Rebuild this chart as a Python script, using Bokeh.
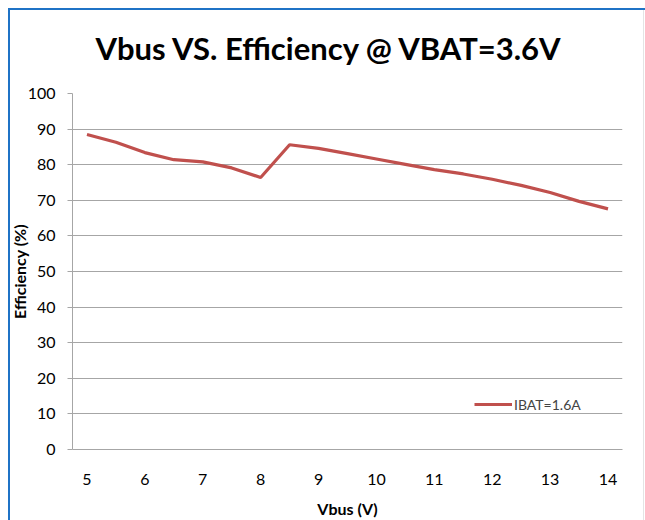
from bokeh.plotting import figure
from bokeh.models import Range1d, FixedTicker, Legend, LegendItem, Title
from bokeh.embed import file_html
from bokeh.resources import INLINE

vbus = [5, 5.5, 6, 6.5, 7, 7.5, 8, 8.5, 9, 9.5, 10, 10.5, 11, 11.5, 12, 12.5, 13, 13.5, 14]
eff = [88.5, 86.3, 83.4, 81.4, 80.8, 79.1, 76.4, 85.6, 84.6, 83.1, 81.6, 80.1, 78.6, 77.4, 75.9, 74.2, 72.2, 69.7, 67.6]
x_ticks = [5, 6, 7, 8, 9, 10, 11, 12, 13, 14]
y_ticks = [0, 10, 20, 30, 40, 50, 60, 70, 80, 90, 100]
series_name = "IBAT=1.6A"
title_text = "Vbus  VS. Efficiency @ VBAT=3.6V"

FONT = "Lato"
GRID = "#a6a6a6"
BLUE = "#1f73c6"

p = figure(width=645, height=520, output_backend="svg", toolbar_location=None,
           x_range=Range1d(4.75, 14.25), y_range=Range1d(0, 100),
           min_border_left=72, min_border_right=23, min_border_top=93, min_border_bottom=69)
bg = ("linear-gradient({c},{c}) 8px 8px / 2px 100% no-repeat, "
      "linear-gradient({c},{c}) 8px 8px / 100% 2px no-repeat, "
      "linear-gradient(#e4e4e4,#e4e4e4) 643px 10px / 1px 100% no-repeat, white").format(c=BLUE)
p.styles = {"background": bg}
p.outline_line_color = None
p.background_fill_color = "white"
p.border_fill_alpha = 0

p.title = Title(text=title_text, align="left", text_font=FONT, text_font_size="31px",
                text_font_style="bold", text_color="#000000", offset=23, standoff=53)

r = p.line(vbus, eff, line_color="#c0504d", line_width=3.2)

xa = p.xaxis[0]
xa.ticker = FixedTicker(ticks=x_ticks)
xa.axis_label = "Vbus (V)"
xa.axis_label_text_font = FONT
xa.axis_label_text_font_style = "bold"
xa.axis_label_text_font_size = "16px"
xa.axis_label_text_color = "#000000"
xa.axis_label_standoff = 11
xa.major_label_text_font = FONT
xa.major_label_text_font_size = "16px"
xa.major_label_text_color = "#000000"
xa.major_label_standoff = 24
xa.major_tick_out = 0
xa.major_tick_in = 0
xa.minor_tick_out = 0
xa.minor_tick_in = 0
xa.axis_line_color = GRID

ya = p.yaxis[0]
ya.ticker = FixedTicker(ticks=y_ticks)
ya.axis_label = "Efficiency (%)"
ya.axis_label_text_font = FONT
ya.axis_label_text_font_style = "bold"
ya.axis_label_text_font_size = "16px"
ya.axis_label_text_color = "#000000"
ya.axis_label_standoff = -4
ya.major_label_text_font = FONT
ya.major_label_text_font_size = "16px"
ya.major_label_text_color = "#000000"
ya.major_label_standoff = 12
ya.major_tick_out = 5
ya.major_tick_in = 0
ya.minor_tick_out = 0
ya.minor_tick_in = 0
ya.axis_line_color = GRID
ya.major_tick_line_color = GRID

p.xgrid.grid_line_color = None
p.ygrid.grid_line_color = GRID
p.ygrid.grid_line_width = 1

legend = Legend(items=[LegendItem(label=series_name, renderers=[r])],
                location=(402, 35), background_fill_alpha=0, border_line_color=None,
                label_text_font=FONT, label_text_font_size="14px", glyph_width=38,
                label_standoff=2, padding=4, margin=0)
p.add_layout(legend, "center")

open("out.html", "w").write(file_html(p, INLINE))
